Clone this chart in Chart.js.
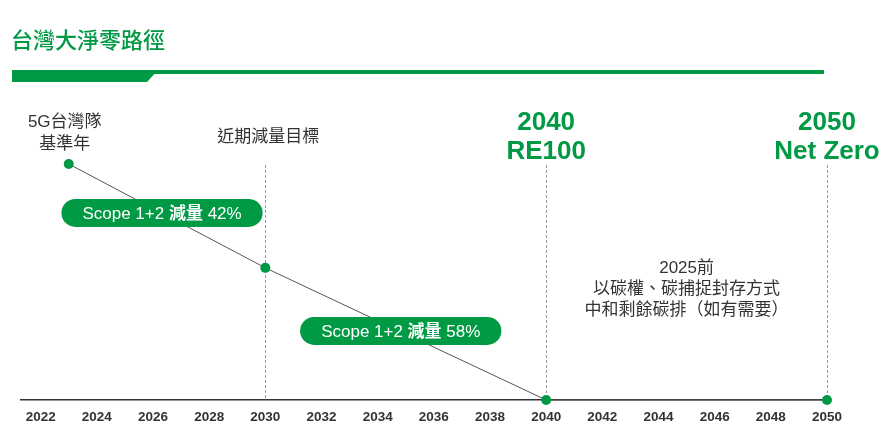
<!DOCTYPE html>
<html>
<head>
<meta charset="utf-8">
<script src="https://cdn.jsdelivr.net/npm/chart.js@4.4.1/dist/chart.umd.min.js"></script>
<style>
  body { margin: 0; background: #fff; }
  #wrap { position: relative; width: 883px; height: 432px; }
</style>
</head>
<body>
<div id="wrap"><canvas id="roadmap"></canvas></div>
<script>
// chart values
var tickYears = [2022, 2024, 2026, 2028, 2030, 2032, 2034, 2036, 2038, 2040, 2042, 2044, 2046, 2048, 2050];
var pathYears = [2023, 2030, 2040, 2050];
var pathValues = [100, 56, 0, 0];
var milestoneYears = [2030, 2040, 2050];
var pillTexts = [
    ['Scope 1+2 ', '減量', ' 42%'],
    ['Scope 1+2 ', '減量', ' 58%']
];
var titleText = '台灣大淨零路徑';
var baseLabel = ['5G台灣隊', '基準年'];
var nearTermLabel = '近期減量目標';
var milestoneLabels = [['2040', 'RE100'], ['2050', 'Net Zero']];
var offsetNote = ['2025前', '以碳權、碳捕捉封存方式', '中和剩餘碳排（如有需要）'];

var GREEN = '#009944';
var TEXT = '#333333';
var LATIN = "'Liberation Sans', Arial, 'Noto Sans CJK TC'";
var CJK = "'Liberation Sans', 'Noto Sans CJK TC', sans-serif";

function pill(ctx, cx, cy, parts) {
    var fonts = ['17px ' + CJK, 'bold 17px ' + CJK, '17px ' + CJK];
    var widths = [];
    var total = 0;
    for (var i = 0; i < parts.length; i++) {
        ctx.font = fonts[i];
        widths.push(ctx.measureText(parts[i]).width);
        total += widths[i];
    }
    var w = total + 42, h = 28, r = h / 2;
    var x = cx - w / 2, y = cy - h / 2;
    ctx.beginPath();
    ctx.moveTo(x + r, y);
    ctx.lineTo(x + w - r, y);
    ctx.arc(x + w - r, y + r, r, -Math.PI / 2, Math.PI / 2);
    ctx.lineTo(x + r, y + h);
    ctx.arc(x + r, y + r, r, Math.PI / 2, Math.PI * 1.5);
    ctx.closePath();
    ctx.fillStyle = GREEN;
    ctx.fill();
    ctx.fillStyle = '#ffffff';
    ctx.textAlign = 'left';
    ctx.textBaseline = 'middle';
    var tx = cx - total / 2;
    for (var j = 0; j < parts.length; j++) {
        ctx.font = fonts[j];
        ctx.fillText(parts[j], tx, cy + 1);
        tx += widths[j];
    }
}

var decor = {
    id: 'decor',
    beforeDatasetsDraw: function(chart) {
        var ctx = chart.ctx, xs = chart.scales.x, area = chart.chartArea;
        ctx.save();
        // header
        ctx.fillStyle = GREEN;
        ctx.font = "500 22px 'Noto Sans CJK TC', sans-serif";
        ctx.textAlign = 'left';
        ctx.textBaseline = 'middle';
        ctx.fillText(titleText, 11, 40);
        ctx.fillRect(12, 70, 812, 4);
        ctx.beginPath();
        ctx.moveTo(12, 70);
        ctx.lineTo(158, 70);
        ctx.lineTo(147, 82);
        ctx.lineTo(12, 82);
        ctx.closePath();
        ctx.fill();
        // dashed milestone guides
        ctx.strokeStyle = '#9a9a9a';
        ctx.lineWidth = 1;
        ctx.setLineDash([3, 2]);
        milestoneYears.forEach(function(yr) {
            var px = Math.round(xs.getPixelForValue(yr)) + 0.5;
            ctx.beginPath();
            ctx.moveTo(px, area.top + 1);
            ctx.lineTo(px, area.bottom);
            ctx.stroke();
        });
        ctx.restore();
    },
    afterDatasetsDraw: function(chart) {
        var ctx = chart.ctx, xs = chart.scales.x, ys = chart.scales.y, area = chart.chartArea;
        ctx.save();
        // pills on the segments
        for (var i = 0; i < pillTexts.length; i++) {
            var x0 = xs.getPixelForValue(pathYears[i]), x1 = xs.getPixelForValue(pathYears[i + 1]);
            var y0 = ys.getPixelForValue(pathValues[i]), y1 = ys.getPixelForValue(pathValues[i + 1]);
            pill(ctx, (x0 + x1) / 2 - 5, (y0 + y1) / 2 - 3, pillTexts[i]);
        }
        ctx.textAlign = 'center';
        ctx.textBaseline = 'middle';
        ctx.fillStyle = TEXT;
        ctx.font = '17px ' + CJK;
        var bx = xs.getPixelForValue(pathYears[0]);
        ctx.fillText(baseLabel[0], bx - 4, area.top - 42);
        ctx.fillText(baseLabel[1], bx - 4, area.top - 20);
        ctx.fillText(nearTermLabel, xs.getPixelForValue(milestoneYears[0]) + 3, area.top - 27);
        // milestone headings
        ctx.fillStyle = GREEN;
        ctx.font = 'bold 26px ' + LATIN;
        milestoneLabels.forEach(function(lines, k) {
            var mx = xs.getPixelForValue(milestoneYears[k + 1]);
            ctx.fillText(lines[0], mx, area.top - 41);
            ctx.fillText(lines[1], mx, area.top - 12);
        });
        // offset note
        ctx.fillStyle = TEXT;
        ctx.font = '17px ' + CJK;
        var nx = (xs.getPixelForValue(milestoneYears[1]) + xs.getPixelForValue(milestoneYears[2])) / 2;
        offsetNote.forEach(function(line, k) {
            ctx.fillText(line, nx, area.bottom - 132 + k * 21);
        });
        ctx.restore();
    }
};

var points = pathYears.map(function(yr, i) { return { x: yr, y: pathValues[i] }; });

var roadmap = new Chart(document.getElementById('roadmap').getContext('2d'), {
    type: 'line',
    data: {
        datasets: [{
            data: points,
            borderColor: '#555555',
            borderWidth: 1,
            pointRadius: 5,
            pointBackgroundColor: GREEN,
            pointBorderWidth: 0,
            clip: false,
            tension: 0
        }]
    },
    options: {
        responsive: true,
        maintainAspectRatio: false,
        animation: false,
        events: [],
        layout: { padding: { top: 164, left: 21, right: 56, bottom: 0 } },
        plugins: { legend: { display: false }, tooltip: { enabled: false } },
        scales: {
            x: {
                type: 'linear',
                min: 2021.3,
                max: 2050,
                grid: { display: false, drawTicks: false },
                border: { display: true, color: '#333333', width: 1.5 },
                afterBuildTicks: function(scale) {
                    scale.ticks = tickYears.map(function(v) { return { value: v }; });
                },
                afterFit: function(scale) { scale.height = 32; },
                ticks: {
                    padding: 9,
                    color: TEXT,
                    font: { family: "'Liberation Sans', Arial", size: 13.5, weight: 'bold' },
                    callback: function(v) { return String(v); },
                    maxRotation: 0,
                    autoSkip: false
                }
            },
            y: { display: false, min: 0, max: 100 }
        }
    },
    plugins: [decor]
});
</script>
</body>
</html>
